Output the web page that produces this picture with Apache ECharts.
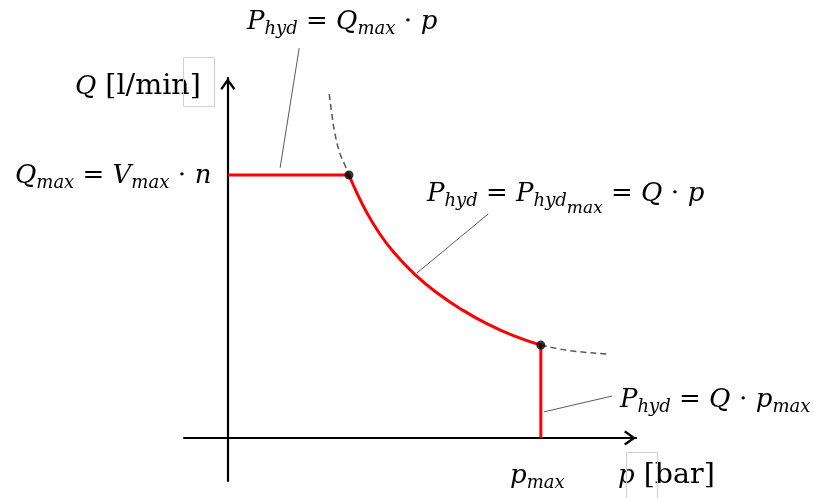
<!DOCTYPE html>
<html>
<head>
<meta charset="utf-8">
<script src="https://cdn.jsdelivr.net/npm/echarts@6/dist/echarts.min.js"></script>
<style>
  html, body { margin: 0; padding: 0; background: #ffffff; }
  #chart { width: 814px; height: 498px; }
</style>
</head>
<body>
<div id="chart"></div>
<script>
// Pump operating envelope: p in % of p_max, Q in % of Q_max
const flowLimit = [[0, 100], [38.7, 100]];
const powerLimit = [
  [38.7, 100.0], [41.0, 93.8], [44.0, 86.6], [48.0, 78.6], [53.0, 70.6],
  [60.0, 61.9], [67.0, 55.0], [75.0, 48.6], [83.0, 43.3], [91.0, 39.0],
  [100.0, 35.3]
];
const pressureLimit = [[100, 35.3], [100, 0]];
const powerCurveAbove = [[32.4, 130.8], [33.2, 123.5], [34.2, 115.9], [35.8, 108.3], [37.4, 103.8], [38.7, 100.0]];
const powerCurveBelow = [[100.0, 35.3], [109.3, 33.2], [121.1, 31.9]];
const cornerPoints = [[38.7, 100], [100, 35.3]];
const leaderFlow = [[22.8, 148.3], [16.7, 102.7]];
const leaderPower = [[83.2, 85.2], [60.4, 62.7]];
const leaderPressure = [[122.7, 15.9], [101.0, 9.9]];

const serif = 'DejaVu Serif';
const rich = {
  i:  { fontFamily: serif, fontStyle: 'italic', fontSize: 26, verticalAlign: 'top', fill: '#000' },
  r:  { fontFamily: serif, fontSize: 26, verticalAlign: 'top', fill: '#000' },
  s:  { fontFamily: serif, fontStyle: 'italic', fontSize: 18, verticalAlign: 'top', padding: [11, 0, 0, 0], fill: '#000' },
  ss: { fontFamily: serif, fontStyle: 'italic', fontSize: 17, verticalAlign: 'top', padding: [19, 0, 0, 0], fill: '#000' },
  // axis titles: italic symbol followed by a slightly larger upright unit
  iu: { fontFamily: serif, fontStyle: 'italic', fontSize: 26, verticalAlign: 'top', padding: [2, 0, 0, 0], fill: '#000' },
  u:  { fontFamily: serif, fontSize: 28.5, verticalAlign: 'top', fill: '#000' }
};

const formulas = [
  { x: 247, y: 9,   text: '{i|P}{s|hyd}{r| = }{i|Q}{s|max}{r| ⋅ }{i|p}' },
  { x: 75,  y: 72,  text: '{iu|Q}{u| [l/min]}' },
  { x: 15,  y: 163, text: '{i|Q}{s|max}{r| = }{i|V}{s|max}{r| ⋅ }{i|n}' },
  { x: 427, y: 181, text: '{i|P}{s|hyd}{r| = }{i|P}{s|hyd}{ss|max}{r| = }{i|Q}{r| ⋅ }{i|p}' },
  { x: 620, y: 387, text: '{i|P}{s|hyd}{r| = }{i|Q}{r| ⋅ }{i|p}{s|max}' },
  { x: 510, y: 463, text: '{i|p}{s|max}' },
  { x: 618, y: 461, text: '{iu|p}{u| [bar]}' }
];

const chevron = 'path://M10,0 L20,14 L17.6,16 L10,5.2 L2.4,16 L0,14 Z';

function axisBase(min, max) {
  return {
    type: 'value', min: min, max: max,
    axisLine: {
      show: true, onZero: true,
      lineStyle: { color: '#000', width: 2.2 },
      symbol: ['none', chevron], symbolSize: [15, 12], symbolOffset: [0, -6]
    },
    axisTick: { show: false }, axisLabel: { show: false }, splitLine: { show: false }
  };
}

function lineSeries(data, color, width, type, smooth, z) {
  return {
    type: 'line', data: data, symbol: 'none', smooth: smooth, clip: false, z: z,
    lineStyle: { color: color, width: width, type: type }
  };
}

const chart = echarts.init(document.getElementById('chart'), null, { renderer: 'canvas' });
chart.setOption({
  animation: false,
  backgroundColor: '#ffffff',
  grid: { left: 184, right: 178, top: 78, bottom: 17 },
  xAxis: axisBase(-14, 130.4),
  yAxis: axisBase(-16.4, 136.9),
  series: [
    lineSeries(leaderFlow, '#5a5a5a', 1, 'solid', false, 2),
    lineSeries(leaderPower, '#5a5a5a', 1, 'solid', false, 2),
    lineSeries(leaderPressure, '#5a5a5a', 1, 'solid', false, 2),
    lineSeries(powerCurveAbove, '#555555', 1.5, [6, 4], true, 2),
    lineSeries(powerCurveBelow, '#555555', 1.5, [6, 4], true, 2),
    lineSeries(flowLimit, '#ff0000', 3, 'solid', false, 3),
    lineSeries(powerLimit, '#ff0000', 3, 'solid', true, 3),
    lineSeries(pressureLimit, '#ff0000', 3, 'solid', false, 3),
    {
      type: 'scatter', data: cornerPoints, symbol: 'circle', symbolSize: 9, z: 4,
      itemStyle: { color: '#000' }
    }
  ],
  graphic: formulas.map(function (f) {
    return { type: 'text', x: f.x, y: f.y, style: { text: f.text, rich: rich, verticalAlign: 'top' } };
  }).concat([
    { type: 'rect', shape: { x: 183.5, y: 57.5, width: 31, height: 49 }, style: { fill: 'none', stroke: '#cfcfcf', lineWidth: 1 } },
    { type: 'rect', shape: { x: 626.5, y: 452.5, width: 31, height: 50 }, style: { fill: 'none', stroke: '#cfcfcf', lineWidth: 1 } }
  ])
});
</script>
</body>
</html>
